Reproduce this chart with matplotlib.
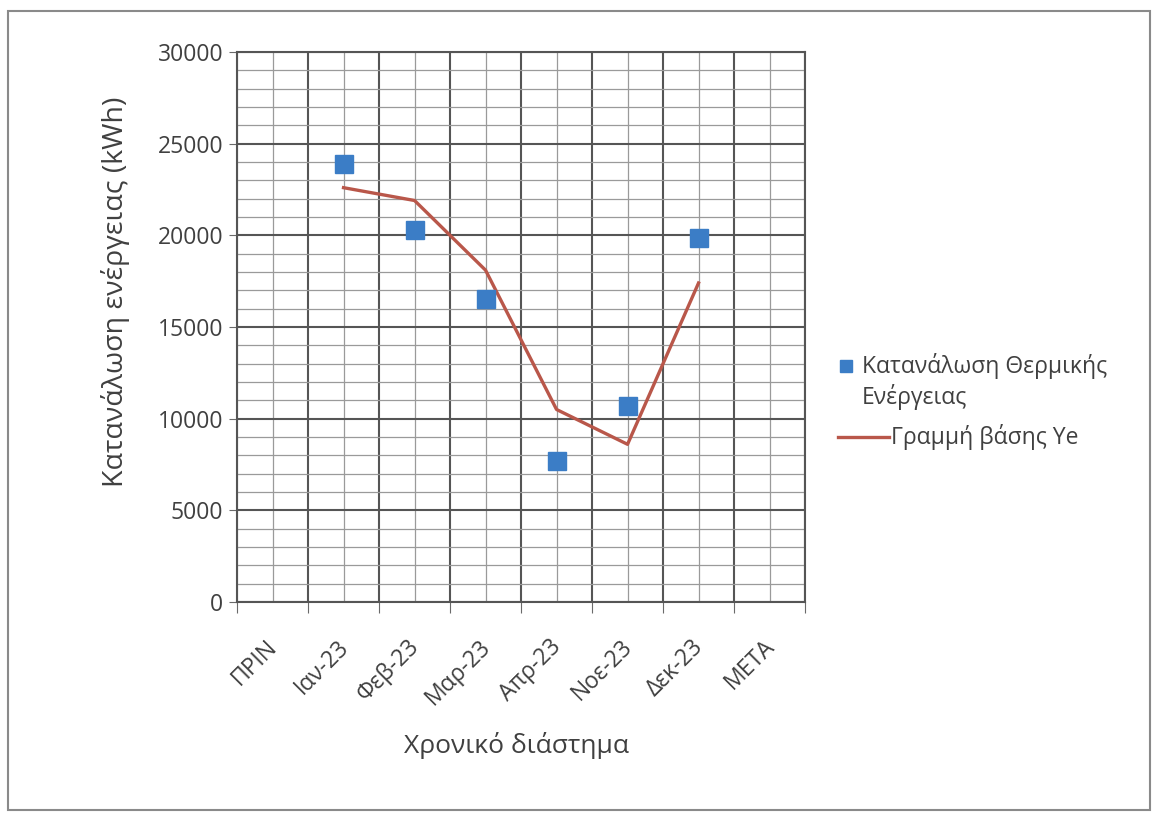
import matplotlib
matplotlib.use("Agg")
import matplotlib.pyplot as plt
from matplotlib.lines import Line2D
from matplotlib.patches import Rectangle
from matplotlib.ticker import MultipleLocator, FixedLocator

plt.rcParams['font.family'] = ['Open Sans', 'DejaVu Sans']

# Categories on the time axis
categories = ["ΠΡΙΝ", "Ιαν-23", "Φεβ-23", "Μαρ-23", "Απρ-23", "Νοε-23", "Δεκ-23", "ΜΕΤΑ"]
months = ["Ιαν-23", "Φεβ-23", "Μαρ-23", "Απρ-23", "Νοε-23", "Δεκ-23"]

# Measured thermal energy consumption (kWh)
consumption = [23900, 20300, 16500, 7700, 10700, 19850]
# Baseline Ye (kWh)
baseline = [22600, 21900, 18100, 10500, 8600, 17400]

blue = "#3B7DC6"
red = "#B9574A"
text_col = "#404040"

fig = plt.figure(figsize=(11.58, 8.18), dpi=100)
ax = fig.add_axes([0.2047, 0.2641, 0.4905, 0.6723])

xpos = [categories.index(m) for m in months]
ax.plot(xpos, baseline, color=red, lw=2.4, zorder=3)
ax.plot(xpos, consumption, ls="none", marker="s", ms=12.5,
        color=blue, mec=blue, zorder=4)

ax.set_xlim(-0.5, len(categories) - 0.5)
ax.set_ylim(0, 30000)

# y grid: major every 5000, minor every 1000
ax.yaxis.set_major_locator(MultipleLocator(5000))
ax.yaxis.set_minor_locator(MultipleLocator(1000))
# x grid: major at category boundaries, minor through category centres
ax.xaxis.set_major_locator(FixedLocator([i - 0.5 for i in range(len(categories) + 1)]))
ax.xaxis.set_minor_locator(FixedLocator(range(len(categories))))
ax.set_xticklabels([])
ax.grid(which="major", color="#555555", lw=1.5)
ax.grid(which="minor", color="#9a9a9a", lw=0.9)
ax.set_axisbelow(True)

ax.tick_params(axis="y", which="major", length=6, color="#6a6a6a",
               labelsize=16.5, labelcolor=text_col, pad=4)
ax.tick_params(axis="x", which="major", length=8, color="#6a6a6a")
ax.tick_params(which="minor", length=0)

for i, lab in enumerate(categories):
    ax.text(i - 0.1, -1800, lab, rotation=45, ha="right", va="top",
            rotation_mode="anchor", fontsize=16.5, color=text_col)

for s in ["left", "bottom", "right", "top"]:
    ax.spines[s].set_color("#555555")
    ax.spines[s].set_linewidth(1.5)

ax.set_ylabel("Κατανάλωση ενέργειας (kWh)", fontsize=20.5, color=text_col)
ax.yaxis.set_label_coords(-0.188, 0.564)
fig.text(0.446, 0.089, "Χρονικό διάστημα", fontsize=19, color=text_col,
         ha="center", va="center")

# legend keys
fig.add_artist(Line2D([0.7305], [0.553], marker="s", ms=8, color=blue, ls="none",
                      transform=fig.transFigure))
fig.text(0.744, 0.553, "Κατανάλωση Θερμικής", fontsize=16.5, color=text_col,
         va="center", ha="left")
fig.text(0.744, 0.515, "Ενέργειας", fontsize=16.5, color=text_col,
         va="center", ha="left")
fig.add_artist(Line2D([0.724, 0.768], [0.466, 0.466], color=red, lw=2.4,
                      transform=fig.transFigure))
fig.text(0.769, 0.466, "Γραμμή βάσης Ye", fontsize=16.5, color=text_col,
         va="center", ha="left")

# chart frame
fig.add_artist(Rectangle((0.007, 0.01), 0.986, 0.977, fill=False,
                         ec="#8a8a8a", lw=1.5, transform=fig.transFigure))

fig.savefig("out.png", dpi=100)
